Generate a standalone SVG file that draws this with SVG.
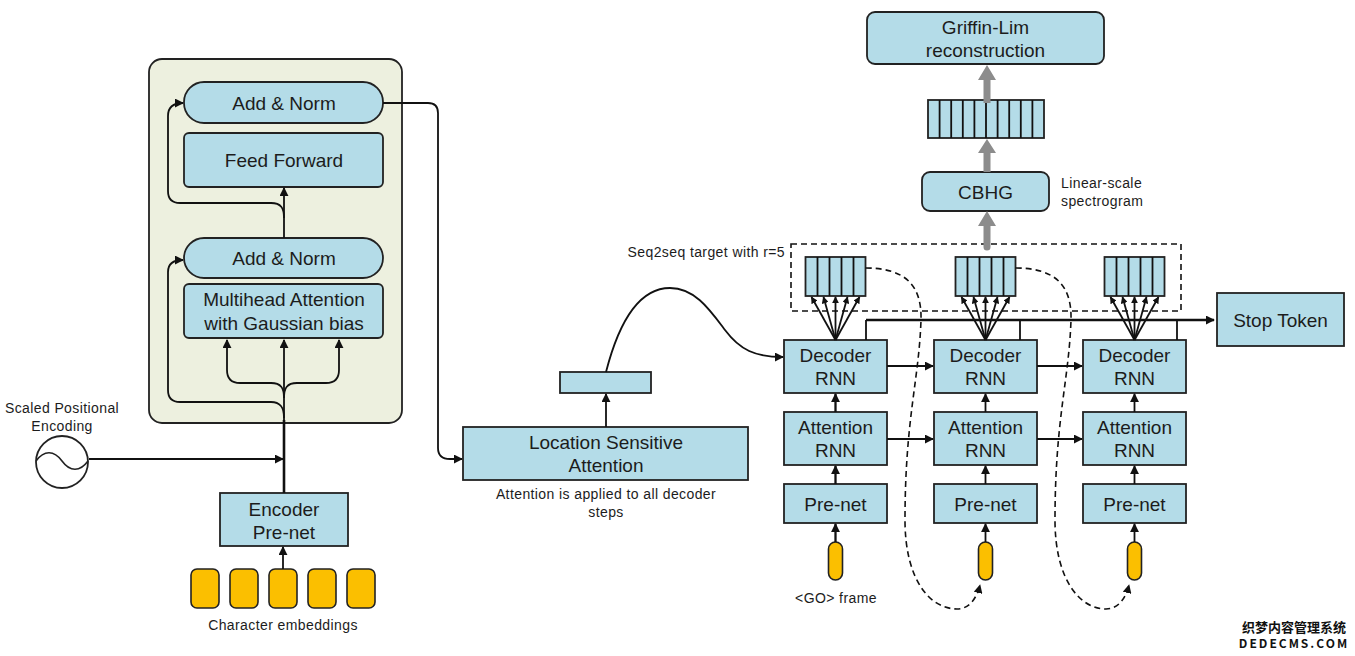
<svg xmlns="http://www.w3.org/2000/svg" width="1355" height="656" viewBox="0 0 1355 656">
<style>
  .box{fill:#B4DCE8;stroke:#222;stroke-width:1.8}
  .emb{fill:#FBBF00;stroke:#222;stroke-width:1.6}
  .ln{fill:none;stroke:#111;stroke-width:1.8}
  .thick{fill:none;stroke:#111;stroke-width:2.6}
  .dash{fill:none;stroke:#111;stroke-width:1.6;stroke-dasharray:6 4}
  .gray{fill:#8C8C8C;stroke:none}
  .big{font-family:"Liberation Sans",Arial,sans-serif;font-size:19px;fill:#1c1c1c;text-anchor:middle}
  .sm{font-family:"Liberation Sans",Arial,sans-serif;font-size:14px;fill:#1c1c1c;letter-spacing:0.4px}
  .mid{text-anchor:middle}
  .wm{font-family:"Noto Sans CJK SC","DejaVu Sans",sans-serif;font-weight:bold;fill:#111;text-anchor:middle}
</style>
<defs>
  <marker id="ah" viewBox="0 0 10 10" refX="9" refY="5" markerWidth="9" markerHeight="9" markerUnits="userSpaceOnUse" orient="auto">
    <path d="M0,0 L10,5 L0,10 z" fill="#111"/>
  </marker>
  <marker id="ahs" viewBox="0 0 10 10" refX="9" refY="5" markerWidth="7" markerHeight="7" markerUnits="userSpaceOnUse" orient="auto">
    <path d="M0,0 L10,5 L0,10 z" fill="#111"/>
  </marker>
</defs>

<!-- Encoder block -->
<g id="encoder-block">
  <rect x="149" y="59" width="253" height="364" rx="13" fill="#EDF0DF" stroke="#222" stroke-width="1.8"/>
</g>
<g id="add-norm-top">
  <rect class="box" x="184" y="82" width="199" height="41" rx="20"/>
  <text class="big" x="284" y="110">Add &amp; Norm</text>
</g>
<g id="feed-forward">
  <rect class="box" x="184" y="133" width="199" height="54" rx="5"/>
  <text class="big" x="284" y="167">Feed Forward</text>
</g>
<g id="add-norm-bottom">
  <rect class="box" x="184" y="238" width="199" height="40" rx="20"/>
  <text class="big" x="284" y="265">Add &amp; Norm</text>
</g>
<g id="multihead">
  <rect class="box" x="184" y="284" width="199" height="54" rx="5"/>
  <text class="big" x="284" y="306">Multihead Attention</text>
  <text class="big" x="284" y="330">with Gaussian bias</text>
</g>
<g id="positional-encoding">
  <circle cx="62" cy="462" r="26" fill="#fff" stroke="#222" stroke-width="1.8"/>
  <path d="M36,461 C44,450 54,450 62,461 C70,472 80,472 88,461" fill="none" stroke="#222" stroke-width="1.6"/>
  <text class="sm mid" x="62" y="413">Scaled Positional</text>
  <text class="sm mid" x="62" y="431">Encoding</text>
</g>
<g id="encoder-prenet">
  <rect class="box" x="220" y="493" width="128" height="53"/>
  <text class="big" x="284" y="516">Encoder</text>
  <text class="big" x="284" y="539">Pre-net</text>
</g>
<g id="character-embeddings">
  <rect class="emb" x="191" y="569" width="28" height="39" rx="6"/>
  <rect class="emb" x="230" y="569" width="28" height="39" rx="6"/>
  <rect class="emb" x="269" y="569" width="28" height="39" rx="6"/>
  <rect class="emb" x="308" y="569" width="28" height="39" rx="6"/>
  <rect class="emb" x="347" y="569" width="28" height="39" rx="6"/>
  <text class="sm mid" x="283" y="630">Character embeddings</text>
</g>

<!-- Location sensitive attention -->
<g id="location-sensitive-attention">
  <rect class="box" x="463" y="427" width="285" height="53"/>
  <text class="big" x="606" y="449">Location Sensitive</text>
  <text class="big" x="606" y="472">Attention</text>
  <text class="sm mid" x="606" y="499">Attention is applied to all decoder</text>
  <text class="sm mid" x="606" y="517">steps</text>
</g>
<g id="context-vector">
  <rect class="box" x="560" y="372" width="91" height="21"/>
</g>

<!-- Decoder columns -->
<g id="decoder-col1">
  <rect class="box" x="784" y="340" width="103" height="53"/>
  <text class="big" x="835.5" y="362">Decoder</text>
  <text class="big" x="835.5" y="385">RNN</text>
  <rect class="box" x="784" y="412" width="103" height="53"/>
  <text class="big" x="835.5" y="434">Attention</text>
  <text class="big" x="835.5" y="457">RNN</text>
  <rect class="box" x="784" y="484" width="103" height="39"/>
  <text class="big" x="835.5" y="511">Pre-net</text>
  <rect class="emb" x="828.5" y="542" width="14" height="38" rx="7"/>
  <text class="sm mid" x="836" y="603">&lt;GO&gt; frame</text>
  <rect class="box" x="805.5" y="257" width="60" height="39"/>
  <path class="ln" d="M817.5,257V296M829.5,257V296M841.5,257V296M853.5,257V296"/>
</g>
<g id="decoder-col2">
  <rect class="box" x="934" y="340" width="103" height="53"/>
  <text class="big" x="985.5" y="362">Decoder</text>
  <text class="big" x="985.5" y="385">RNN</text>
  <rect class="box" x="934" y="412" width="103" height="53"/>
  <text class="big" x="985.5" y="434">Attention</text>
  <text class="big" x="985.5" y="457">RNN</text>
  <rect class="box" x="934" y="484" width="103" height="39"/>
  <text class="big" x="985.5" y="511">Pre-net</text>
  <rect class="emb" x="978.5" y="542" width="14" height="38" rx="7"/>
  <rect class="box" x="955.5" y="257" width="60" height="39"/>
  <path class="ln" d="M967.5,257V296M979.5,257V296M991.5,257V296M1003.5,257V296"/>
</g>
<g id="decoder-col3">
  <rect class="box" x="1083" y="340" width="103" height="53"/>
  <text class="big" x="1134.5" y="362">Decoder</text>
  <text class="big" x="1134.5" y="385">RNN</text>
  <rect class="box" x="1083" y="412" width="103" height="53"/>
  <text class="big" x="1134.5" y="434">Attention</text>
  <text class="big" x="1134.5" y="457">RNN</text>
  <rect class="box" x="1083" y="484" width="103" height="39"/>
  <text class="big" x="1134.5" y="511">Pre-net</text>
  <rect class="emb" x="1127.5" y="542" width="14" height="38" rx="7"/>
  <rect class="box" x="1104.5" y="257" width="60" height="39"/>
  <path class="ln" d="M1116.5,257V296M1128.5,257V296M1140.5,257V296M1152.5,257V296"/>
</g>
<g id="seq2seq-target">
  <rect class="dash" x="791" y="244" width="390" height="67"/>
  <text class="sm" x="785" y="257" text-anchor="end">Seq2seq target with r=5</text>
</g>
<g id="stop-token">
  <rect class="box" x="1217" y="293" width="127" height="53"/>
  <text class="big" x="1280.5" y="327">Stop Token</text>
</g>

<!-- Post-processing -->
<g id="cbhg">
  <rect class="box" x="922" y="172" width="127" height="39" rx="8"/>
  <text class="big" x="985.5" y="199">CBHG</text>
  <text class="sm" x="1061" y="188">Linear-scale</text>
  <text class="sm" x="1061" y="206">spectrogram</text>
</g>
<g id="linear-spectrogram">
  <rect class="box" x="928" y="100" width="116" height="38"/>
  <path class="ln" d="M939.6,100V138M951.2,100V138M962.8,100V138M974.4,100V138M986,100V138M997.6,100V138M1009.2,100V138M1020.8,100V138M1032.4,100V138"/>
</g>
<g id="griffin-lim">
  <rect class="box" x="867" y="12" width="237" height="52" rx="8"/>
  <text class="big" x="985.5" y="34">Griffin-Lim</text>
  <text class="big" x="985.5" y="57">reconstruction</text>
</g>

<!-- Connectors -->
<g id="connectors">
  <!-- encoder internals -->
  <path class="thick" d="M284,493 V420"/>
  <path class="ln" d="M284,420 V340" marker-end="url(#ah)"/>
  <path class="ln" d="M284,398 C284,388 281,383 271,383 L240,383 Q227,383 227,370 L227,340" marker-end="url(#ah)"/>
  <path class="ln" d="M284,398 C284,388 287,383 297,383 L326,383 Q339,383 339,370 L339,340" marker-end="url(#ah)"/>
  <path class="ln" d="M284,418 C284,408 281,402 271,402 L180,402 Q168,402 168,390 L168,272 Q168,260 183,260" marker-end="url(#ah)"/>
  <path class="ln" d="M284,238 V188" marker-end="url(#ah)"/>
  <path class="ln" d="M284,218 C284,208 281,203 271,203 L180,203 Q168,203 168,191 L168,116 Q168,103 183,103" marker-end="url(#ah)"/>
  <path class="ln" d="M89,459 H283" marker-end="url(#ah)"/>
  <path class="ln" d="M283,569 V547" marker-end="url(#ah)"/>
  <!-- encoder to attention -->
  <path class="ln" d="M383,103 L428,103 Q438,103 438,113 L438,448 Q438,459 450,459 L462,459" marker-end="url(#ah)"/>
  <path class="ln" d="M606,427 V394" marker-end="url(#ah)"/>
  <path class="ln" d="M606,372 C622,310 645,288 670,288 C695,288 710,310 725,330 C740,350 755,357 783,357" marker-end="url(#ah)"/>
  <!-- decoder verticals -->
  <path class="ln" d="M835.5,542V524M835.5,484V466M835.5,412V394" />
  <path class="ln" d="M835.5,542V524" marker-end="url(#ah)"/>
  <path class="ln" d="M835.5,484V466" marker-end="url(#ah)"/>
  <path class="ln" d="M835.5,412V394" marker-end="url(#ah)"/>
  <path class="ln" d="M985.5,542V524" marker-end="url(#ah)"/>
  <path class="ln" d="M985.5,484V466" marker-end="url(#ah)"/>
  <path class="ln" d="M985.5,412V394" marker-end="url(#ah)"/>
  <path class="ln" d="M1134.5,542V524" marker-end="url(#ah)"/>
  <path class="ln" d="M1134.5,484V466" marker-end="url(#ah)"/>
  <path class="ln" d="M1134.5,412V394" marker-end="url(#ah)"/>
  <!-- decoder horizontals -->
  <path class="ln" d="M887,366H933" marker-end="url(#ah)"/>
  <path class="ln" d="M887,439H933" marker-end="url(#ah)"/>
  <path class="ln" d="M1037,366H1082" marker-end="url(#ah)"/>
  <path class="ln" d="M1037,439H1082" marker-end="url(#ah)"/>
  <!-- fans -->
  <g class="fan">
    <path class="ln" d="M835.5,340L811.5,297" marker-end="url(#ahs)"/>
    <path class="ln" d="M835.5,340L823.5,297" marker-end="url(#ahs)"/>
    <path class="ln" d="M835.5,340L835.5,297" marker-end="url(#ahs)"/>
    <path class="ln" d="M835.5,340L847.5,297" marker-end="url(#ahs)"/>
    <path class="ln" d="M835.5,340L859.5,297" marker-end="url(#ahs)"/>
    <path class="ln" d="M985.5,340L961.5,297" marker-end="url(#ahs)"/>
    <path class="ln" d="M985.5,340L973.5,297" marker-end="url(#ahs)"/>
    <path class="ln" d="M985.5,340L985.5,297" marker-end="url(#ahs)"/>
    <path class="ln" d="M985.5,340L997.5,297" marker-end="url(#ahs)"/>
    <path class="ln" d="M985.5,340L1009.5,297" marker-end="url(#ahs)"/>
    <path class="ln" d="M1134.5,340L1110.5,297" marker-end="url(#ahs)"/>
    <path class="ln" d="M1134.5,340L1122.5,297" marker-end="url(#ahs)"/>
    <path class="ln" d="M1134.5,340L1134.5,297" marker-end="url(#ahs)"/>
    <path class="ln" d="M1134.5,340L1146.5,297" marker-end="url(#ahs)"/>
    <path class="ln" d="M1134.5,340L1158.5,297" marker-end="url(#ahs)"/>
  </g>
  <!-- stop token line -->
  <path class="ln" d="M866,340V320M1020,340V320M1177,340V320"/>
  <path class="thick" d="M866,320H1214" marker-end="url(#ah)"/>
  <!-- dashed feedback -->
  <path class="dash" d="M865.5,268 C905,268 922,285 921,320 C919,380 905,420 905,520 C905,580 930,609 957,609 C970,609 977,597 980,585" marker-end="url(#ah)"/>
  <path class="dash" d="M1015.5,268 C1055,268 1072,285 1071,320 C1069,380 1055,420 1055,520 C1055,580 1080,609 1106,609 C1119,609 1126,597 1129,585" marker-end="url(#ah)"/>
  <!-- gray arrows -->
  <path class="gray" d="M983.5,247 V226 H978 L987,211 L996,226 H990.5 V247 A3.5,3.5 0 0 1 983.5,247 z"/>
  <path class="gray" d="M983.5,172 V153 H978 L987,139 L996,153 H990.5 V172 z"/>
  <path class="gray" d="M983.5,103 V80 H978 L987,65 L996,80 H990.5 V103 z"/>
</g>

<g id="watermark">
  <text class="wm" x="1294" y="632" font-size="13">织梦内容管理系统</text>
  <text class="wm" x="1294" y="648" font-size="12" letter-spacing="2">DEDECMS.COM</text>
</g>
</svg>
